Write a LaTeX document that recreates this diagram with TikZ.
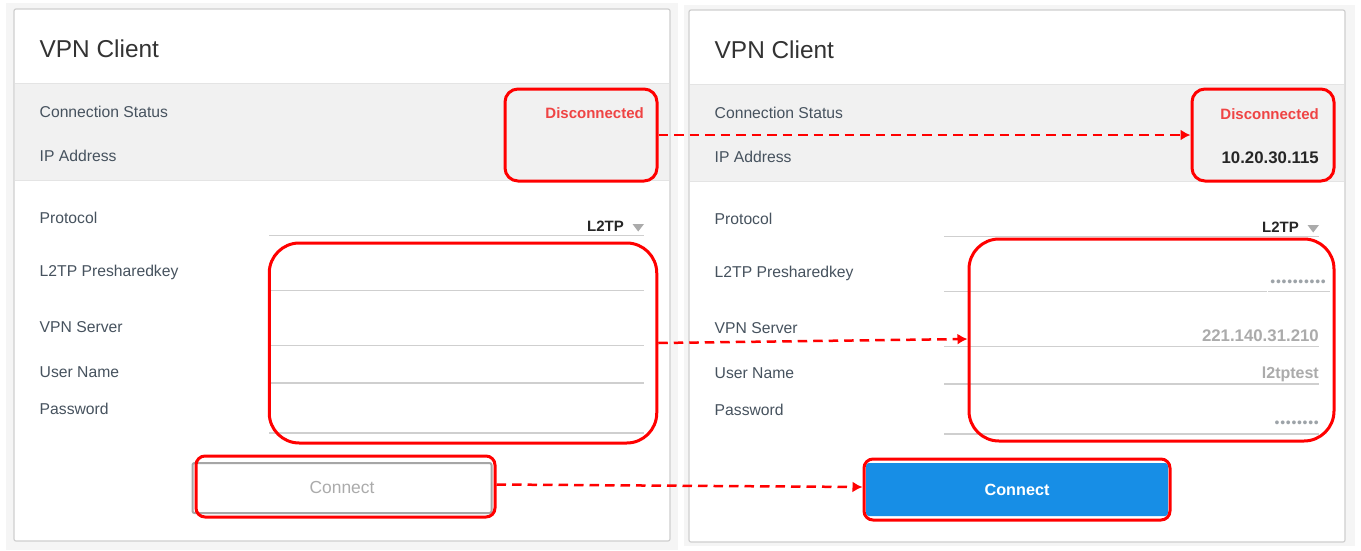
\documentclass[tikz,border=0pt]{standalone}
\usepackage{fontspec}
\setmainfont{Liberation Sans}
\newfontfamily\dotfont[LetterSpace=5]{Liberation Sans}
\usetikzlibrary{arrows.meta}
\definecolor{pagebg}{HTML}{F5F5F5}
\definecolor{band}{HTML}{F1F1F1}
\definecolor{rule}{HTML}{CFCFCF}
\definecolor{bandrule}{HTML}{E4E4E4}
\definecolor{lab}{HTML}{46525E}
\definecolor{disc}{HTML}{EF4444}
\definecolor{val}{HTML}{ABABAB}
\definecolor{dotc}{HTML}{9DA3A8}
\definecolor{blue}{HTML}{178EE6}
\definecolor{redline}{HTML}{FF0000}
\tikzset{
  x=1pt,y=-1pt,
  card/.style={draw=rule,fill=white,line width=1.2pt,rounded corners=2pt},
  titletext/.style={anchor=base west,inner sep=0pt,text=black!80,font=\fontsize{24.4}{24}\selectfont},
  labeltext/.style={anchor=base west,inner sep=0pt,text=lab,font=\fontsize{15.7}{16}\selectfont},
  valtext/.style={anchor=base east,inner sep=0pt,font=\fontsize{15}{15}\selectfont\bfseries},
  bigval/.style={anchor=base east,inner sep=0pt,font=\fontsize{16.8}{16}\selectfont\bfseries},
  dotstext/.style={anchor=base east,inner sep=0pt,text=dotc,font=\fontsize{14}{14}\dotfont},
  fieldline/.style={draw=rule,line width=1.2pt},
  btntext/.style={inner sep=0pt,font=\fontsize{17.4}{17}\selectfont},
  redbox/.style={draw=redline,line width=3pt,inner sep=0pt},
  flow/.style={draw=redline,line width=2.5pt,dash pattern=on 9.5pt off 6pt,-{Latex[length=10pt,width=11pt]}},
}
\newcommand{\panel}[3]{% x offset, y offset, suffix
  \begin{scope}[shift={(#1,#2)}]
    \path[card] (14,9) rectangle (670,541);
    \fill[band] (14.6,84) rectangle (669.4,180);
    \draw[bandrule,line width=1.5pt] (14.6,83.5) -- (669.4,83.5);
    \draw[bandrule,line width=1.5pt] (14.6,180.5) -- (669.4,180.5);
    \node[titletext] (title#3) at (39.5,57) {VPN Client};
    \node[labeltext] (status#3) at (39.5,117) {Connection Status};
    \node[labeltext] (ip#3) at (39.5,161) {IP Address};
    \node[labeltext] (proto#3) at (39.5,223) {Protocol};
    \node[labeltext] (psk#3) at (39.5,276) {L2TP Presharedkey};
    \node[labeltext] (server#3) at (39.5,332) {VPN Server};
    \node[labeltext] (user#3) at (39.5,377) {User Name};
    \node[labeltext] (pass#3) at (39.5,414) {Password};
    \node[valtext,text=disc] (discval#3) at (644,118) {Disconnected};
    \node[valtext,text=black!85] (l2tp#3) at (624,231) {L2TP};
    \fill[val] (632.5,224) -- (644,224) -- (638.2,231.5) -- cycle;
    \draw[fieldline] (269,235.5) -- (644,235.5);
    \draw[fieldline] (269,290.5) -- (644,290.5);
    \draw[fieldline] (269,345.5) -- (644,345.5);
    \draw[fieldline] (269,383) -- (644,383);
    \draw[fieldline] (269,433) -- (644,433);
  \end{scope}
}
\begin{document}
\begin{tikzpicture}
\useasboundingbox (0,0) rectangle (1361,550);
\fill[white] (0,0) rectangle (1361,550);
\fill[pagebg] (6,3) rectangle (678,550);
\fill[pagebg] (684,5) rectangle (1355,546);
\panel{0}{0}{L}
\panel{675}{1}{R}
% right-hand values
\node[bigval,text=black!85] (ipval) at (1319,163) {10.20.30.115};
\node[bigval,text=val] (serverval) at (1319,341) {221.140.31.210};
\node[valtext,text=val,font=\fontsize{16}{16}\selectfont\bfseries] (userval) at (1319,378) {l2tptest};
\node[dotstext] (pskval) at (1326,286) {••••••••••};
\node[dotstext] (passval) at (1319,427) {••••••••};
\draw[white,line width=1.4pt] (1267,291.5) -- (1268,291.5);
\draw[fieldline] (1319,291.5) -- (1330,291.5);
% buttons
\node[draw=black!35,line width=2pt,rounded corners=2pt,fill=white,minimum width=299pt,minimum height=50pt,btntext,text=val] (btnL) at (342,488) {Connect};
\node[fill=blue,rounded corners=3pt,minimum width=302pt,minimum height=53pt,btntext,text=white,font=\fontsize{16.2}{17}\selectfont\bfseries] (btnR) at (1017,489.5) {Connect};
% red frames
\node[redbox,rounded corners=13pt,minimum width=152pt,minimum height=92pt] (boxA) at (581,135) {};
\node[redbox,rounded corners=13pt,minimum width=142pt,minimum height=92pt] (boxB) at (1263,135) {};
\node[redbox,rounded corners=30pt,minimum width=387.5pt,minimum height=200pt] (boxC) at (463,343) {};
\node[redbox,rounded corners=30pt,minimum width=365pt,minimum height=202pt] (boxD) at (1151.5,340) {};
\node[redbox,rounded corners=9pt,minimum width=299pt,minimum height=61pt] (boxE) at (345.5,486.5) {};
\node[redbox,rounded corners=9pt,minimum width=306pt,minimum height=61pt] (boxF) at (1017,489.5) {};
% connectors
\draw[flow] (boxA.east) -- (boxB.west);
\draw[flow] (boxC.east) -- ([yshift=1pt]boxD.west);
\draw[flow] ([yshift=2pt]boxE.east) -- ([yshift=2.5pt]boxF.west);
\end{tikzpicture}
\end{document}
